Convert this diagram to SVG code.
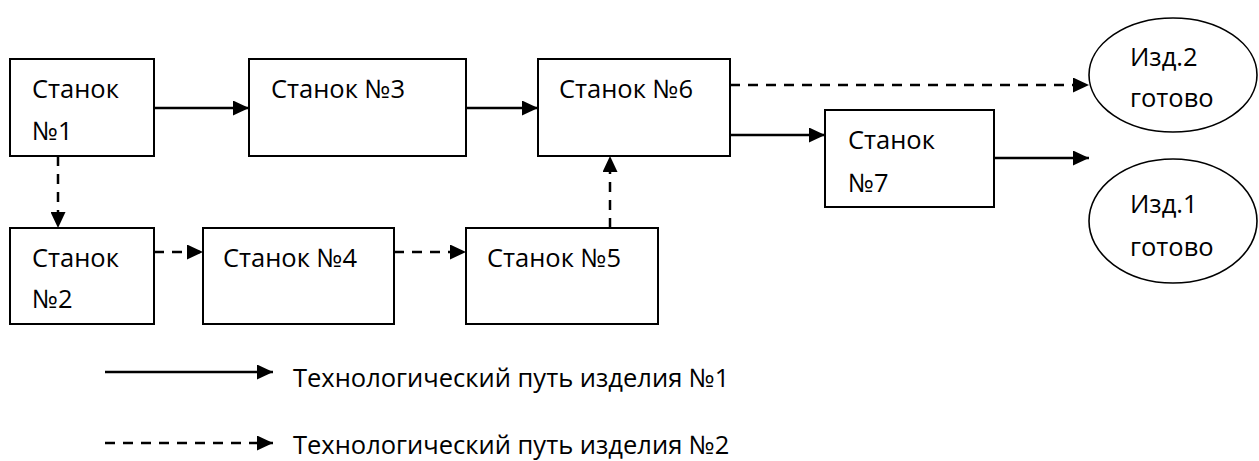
<svg xmlns="http://www.w3.org/2000/svg" width="1259" height="461" viewBox="0 0 1259 461">
  <defs>
    <marker id="arrow" viewBox="0 0 16 15" refX="16" refY="7.5" markerWidth="16" markerHeight="15" markerUnits="userSpaceOnUse" orient="auto">
      <path d="M0,0 L16,7.5 L0,15 Z" fill="#000"/>
    </marker>
    <style>
      .box { fill: #fff; stroke: #000; stroke-width: 2; }
      .oval { fill: #fff; stroke: #000; stroke-width: 1.6; }
      .lbl { font-family: "Open Sans", "Noto Sans", sans-serif; font-size: 25.5px; fill: #000; }
      .solid { stroke: #000; stroke-width: 2.5; fill: none; marker-end: url(#arrow); }
      .dash { stroke: #000; stroke-width: 2.5; fill: none; stroke-dasharray: 10 8; marker-end: url(#arrow); }
    </style>
  </defs>
  <rect width="1259" height="461" fill="#fff"/>

  <!-- connectors -->
  <g id="connectors">
    <line class="solid" x1="154" y1="108" x2="249" y2="108"/>
    <line class="solid" x1="466" y1="108" x2="538" y2="108"/>
    <line class="dash" x1="730" y1="85" x2="1089" y2="85"/>
    <line class="solid" x1="730" y1="135" x2="825" y2="135"/>
    <line class="solid" x1="994" y1="158" x2="1089" y2="158"/>
    <line class="dash" x1="58" y1="156" x2="58" y2="228"/>
    <line class="dash" x1="154" y1="252" x2="203" y2="252"/>
    <line class="dash" x1="394" y1="252" x2="466" y2="252"/>
    <line class="dash" x1="610" y1="228" x2="610" y2="156"/>
  </g>

  <!-- machines -->
  <g id="m1">
    <rect class="box" x="10" y="59" width="144" height="97"/>
    <text class="lbl" x="32" y="98">Станок</text>
    <text class="lbl" x="32" y="140">№1</text>
  </g>
  <g id="m3">
    <rect class="box" x="249" y="59" width="217" height="97"/>
    <text class="lbl" x="271" y="98">Станок №3</text>
  </g>
  <g id="m6">
    <rect class="box" x="538" y="59" width="192" height="97"/>
    <text class="lbl" x="559" y="98">Станок №6</text>
  </g>
  <g id="m2">
    <rect class="box" x="10" y="228" width="144" height="96"/>
    <text class="lbl" x="32" y="267">Станок</text>
    <text class="lbl" x="32" y="308">№2</text>
  </g>
  <g id="m4">
    <rect class="box" x="203" y="228" width="191" height="96"/>
    <text class="lbl" x="223" y="267">Станок №4</text>
  </g>
  <g id="m5">
    <rect class="box" x="466" y="228" width="192" height="96"/>
    <text class="lbl" x="487" y="267">Станок №5</text>
  </g>
  <g id="m7">
    <rect class="box" x="825" y="110" width="169" height="97"/>
    <text class="lbl" x="848" y="149">Станок</text>
    <text class="lbl" x="848" y="192">№7</text>
  </g>

  <!-- finished products -->
  <g id="p2">
    <ellipse class="oval" cx="1173" cy="75" rx="84" ry="57"/>
    <text class="lbl" x="1130" y="66">Изд.2</text>
    <text class="lbl" x="1130" y="107">готово</text>
  </g>
  <g id="p1">
    <ellipse class="oval" cx="1173" cy="221" rx="84" ry="62"/>
    <text class="lbl" x="1130" y="213">Изд.1</text>
    <text class="lbl" x="1130" y="256">готово</text>
  </g>

  <!-- legend -->
  <g id="legend">
    <line class="solid" x1="105" y1="372" x2="273" y2="372"/>
    <text class="lbl" x="293" y="387">Технологический путь изделия №1</text>
    <line class="dash" x1="105" y1="443" x2="273" y2="443"/>
    <text class="lbl" x="293" y="454">Технологический путь изделия №2</text>
  </g>
</svg>
